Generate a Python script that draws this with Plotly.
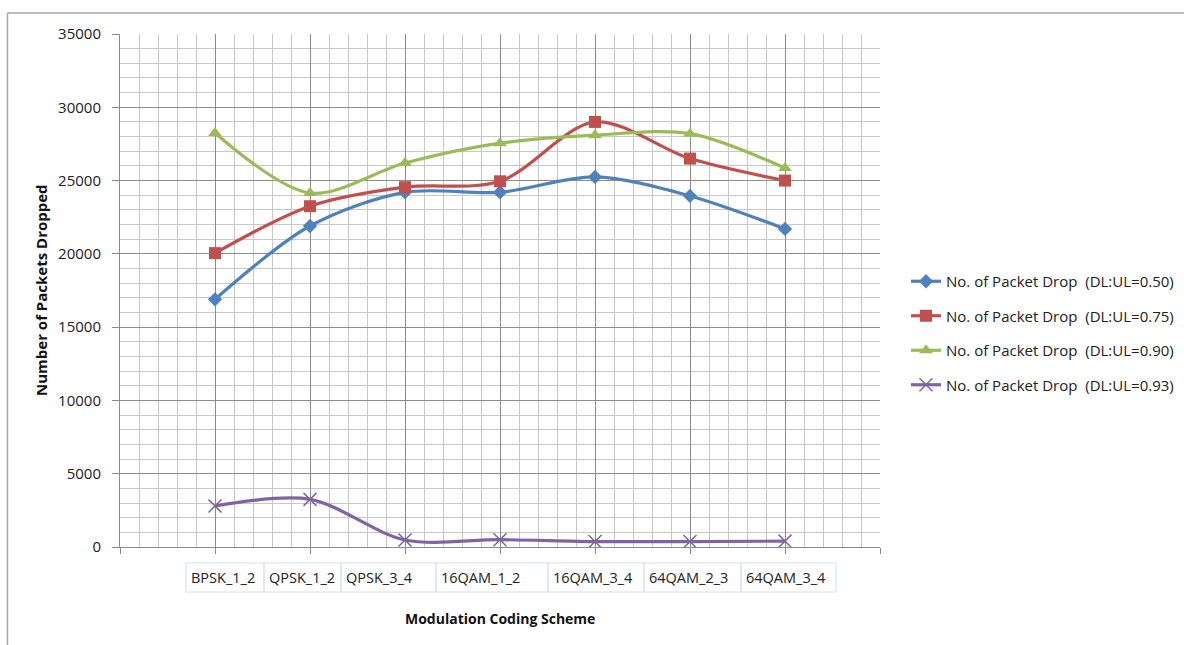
import plotly.graph_objects as go

# Modulation coding schemes (x categories)
schemes = ["BPSK_1_2", "QPSK_1_2", "QPSK_3_4", "16QAM_1_2", "16QAM_3_4", "64QAM_2_3", "64QAM_3_4"]

# Packet drops for each DL:UL ratio
drop_050 = [16900, 21900, 24200, 24200, 25250, 23950, 21700]
drop_075 = [20050, 23250, 24550, 24950, 29000, 26500, 25000]
drop_090 = [28250, 24150, 26200, 27550, 28100, 28200, 25850]
drop_093 = [2800, 3250, 480, 500, 370, 370, 400]

series_names = [
    "No. of Packet Drop  (DL:UL=0.50)",
    "No. of Packet Drop  (DL:UL=0.75)",
    "No. of Packet Drop  (DL:UL=0.90)",
    "No. of Packet Drop  (DL:UL=0.93)",
]

# Figure geometry (pixels)
W, H = 1184, 645
PL, PR, PT, PB = 120, 880, 34, 547

colors = ["#4F81BD", "#C0504D", "#9BBB59", "#8064A2"]
symbols = ["diamond", "square", "triangle-up", "x-thin"]
sizes = [11, 12, 12, 13]
FONT = "Open Sans"

xs = list(range(len(schemes)))
fig = go.Figure()
for i, (name, vals) in enumerate(zip(series_names, [drop_050, drop_075, drop_090, drop_093])):
    marker = dict(symbol=symbols[i], size=sizes[i], color=colors[i])
    if symbols[i] == "x-thin":
        marker["line"] = dict(color=colors[i], width=1.5)
    fig.add_trace(go.Scatter(
        x=xs, y=vals, name=name, mode="lines+markers",
        line=dict(color=colors[i], width=3.2, shape="spline", smoothing=0.9),
        marker=marker, legendgroup=f"g{i}",
    ))

def px_x(px):
    return (px - PL) / (PR - PL)

def px_y(py):
    return (PB - py) / (PB - PT)

# Category label table beneath the axis
cell_edges = [186, 264, 341, 436, 548, 644, 741, 836]
cell_top, cell_bot = 563, 592
shapes = []
annotations = []
for j, lab in enumerate(schemes):
    x0, x1 = cell_edges[j], cell_edges[j + 1]
    shapes.append(dict(type="rect", xref="paper", yref="paper",
                       x0=px_x(x0), x1=px_x(x1), y0=px_y(cell_bot), y1=px_y(cell_top),
                       line=dict(color="#D6E0F0", width=1), fillcolor="rgba(0,0,0,0)", layer="above"))
    annotations.append(dict(text=lab, xref="paper", yref="paper",
                            x=px_x(x0 + 3), y=px_y((cell_top + cell_bot) / 2),
                            xanchor="left", yanchor="middle", showarrow=False,
                            font=dict(size=14.5, color="#222222", family=FONT)))

# Outer frame lines (top and left)
shapes.append(dict(type="line", xref="paper", yref="paper",
                   x0=px_x(7.5), x1=px_x(W + 2), y0=px_y(13), y1=px_y(13),
                   line=dict(color="#A6A6A6", width=1.5)))
shapes.append(dict(type="line", xref="paper", yref="paper",
                   x0=px_x(7.5), x1=px_x(7.5), y0=px_y(13), y1=px_y(H + 2),
                   line=dict(color="#A6A6A6", width=1.5)))

# Axis titles
annotations.append(dict(text="<b>Modulation Coding Scheme</b>", xref="paper", yref="paper",
                        x=px_x(500), y=px_y(618), xanchor="center", yanchor="middle",
                        showarrow=False, font=dict(size=14, color="#111111", family=FONT)))
annotations.append(dict(text="<b>Number of Packets Dropped</b>", xref="paper", yref="paper",
                        x=px_x(41), y=px_y(290), xanchor="center", yanchor="middle",
                        textangle=-90, showarrow=False,
                        font=dict(size=15, color="#111111", family=FONT)))

fig.update_layout(
    width=W, height=H,
    margin=dict(l=PL, r=W - PR, t=PT, b=H - PB, pad=0, autoexpand=False),
    paper_bgcolor="white", plot_bgcolor="white",
    font=dict(family=FONT, size=15, color="#222222"),
    shapes=shapes, annotations=annotations,
    legend=dict(xref="container", yref="container",
                x=906 / W, y=1 - 265 / H, xanchor="left", yanchor="top",
                font=dict(size=15, color="#222222", family=FONT),
                tracegroupgap=12, itemwidth=30, bgcolor="rgba(0,0,0,0)"),
    showlegend=True,
)
fig.update_xaxes(
    range=[-1, 7], tick0=0, dtick=1, showticklabels=False,
    ticks="outside", ticklen=6, tickcolor="#888888",
    showgrid=True, gridcolor="#8C8C8C", gridwidth=1,
    minor=dict(dtick=0.2, tick0=0, showgrid=True, gridcolor="#C8C8C8", gridwidth=1),
    showline=True, linecolor="#8C8C8C", linewidth=1, zeroline=False, fixedrange=True,
)
fig.update_yaxes(
    range=[0, 35000], dtick=5000, tick0=0, tickformat="d",
    ticks="outside", ticklen=7, tickcolor="#888888",
    tickfont=dict(size=15, color="#222222", family=FONT),
    showgrid=True, gridcolor="#8C8C8C", gridwidth=1,
    minor=dict(dtick=1000, showgrid=True, gridcolor="#C8C8C8", gridwidth=1),
    showline=True, linecolor="#8C8C8C", linewidth=1, zeroline=False, fixedrange=True,
    ticklabelstandoff=8,
)

fig.write_html("out.html")
